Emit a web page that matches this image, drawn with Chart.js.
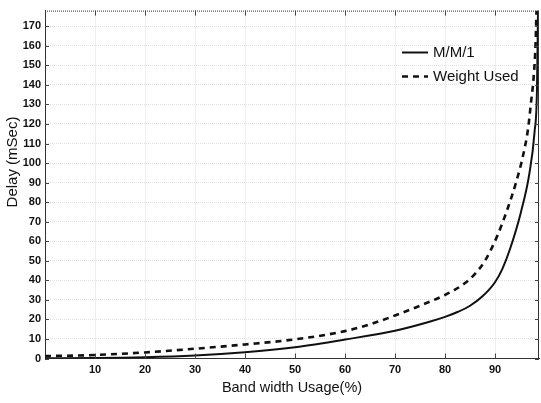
<!DOCTYPE html>
<html><head><meta charset="utf-8">
<script src="https://cdn.jsdelivr.net/npm/chart.js@4.4.0/dist/chart.umd.min.js"></script>
<style>html,body{margin:0;padding:0;background:#fff}#wrap{width:541px;height:403px}</style>
</head><body><div id="wrap"><canvas id="c" width="541" height="403"></canvas></div>
<script>
const seriesNames = ['M/M/1', 'Weight Used'];
const mm1X = [0, 10, 20, 30, 40, 50, 60, 70, 76.9, 80, 82.5, 85, 87.5, 90, 91.5, 93, 95.2, 96.9, 97.9, 98.4, 98.6];
const mm1Y = [0.1, 0.2, 0.6, 1.5, 3.2, 5.8, 9.7, 14.2, 18.8, 21.3, 23.8, 27, 31.8, 39, 46, 56, 75, 95, 115.6, 138, 178];
const wuX = [0, 10, 20, 30, 40, 50, 60, 65, 70, 75, 80, 82, 84, 86, 88, 90.5, 92.5, 94.2, 95.6, 96.6, 97.2, 97.7, 98.1, 98.3];
const wuY = [1.2, 1.8, 3.1, 5, 7.2, 9.8, 14, 17.5, 22, 27, 32.5, 35.2, 38.6, 43.3, 50, 63, 76.5, 90, 103.7, 117.3, 131, 143, 160, 178];
const xTicks = [10, 20, 30, 40, 50, 60, 70, 80, 90];
const yTicks = [0, 10, 20, 30, 40, 50, 60, 70, 80, 90, 100, 110, 120, 130, 140, 150, 160, 170];
const xTitle = 'Band width Usage(%)';
const yTitle = 'Delay (mSec)';

const toPts = (xs, ys) => xs.map((x, i) => ({x: x, y: ys[i]}));
const tickFont = {family: "'Liberation Sans Narrow','Liberation Sans',Arial,sans-serif", size: 11, weight: 'bold'};

const framePlugin = {
  id: 'frame',
  afterDatasetsDraw(chart) {
    const ctx = chart.ctx, a = chart.chartArea;
    const xs = chart.scales.x, ys = chart.scales.y;
    ctx.save();
    ctx.strokeStyle = '#333'; ctx.lineWidth = 1;
    ctx.setLineDash([1, 1]);
    ctx.beginPath(); ctx.moveTo(a.left, a.top + 0.5); ctx.lineTo(a.right, a.top + 0.5); ctx.stroke();
    ctx.setLineDash([]);
    ctx.beginPath(); ctx.moveTo(a.right - 0.5, a.top); ctx.lineTo(a.right - 0.5, a.bottom); ctx.stroke();
    ctx.strokeStyle = '#444';
    xTicks.forEach(v => {
      const px = Math.round(xs.getPixelForValue(v)) + 0.5;
      ctx.beginPath(); ctx.moveTo(px, a.bottom); ctx.lineTo(px, a.bottom - 5); ctx.stroke();
      ctx.beginPath(); ctx.moveTo(px, a.top); ctx.lineTo(px, a.top + 5); ctx.stroke();
    });
    yTicks.forEach(v => {
      const py = Math.round(ys.getPixelForValue(v)) + 0.5;
      ctx.beginPath(); ctx.moveTo(a.left, py); ctx.lineTo(a.left + 4, py); ctx.stroke();
      ctx.beginPath(); ctx.moveTo(a.right, py); ctx.lineTo(a.right - 4, py); ctx.stroke();
    });
    ctx.font = "15px 'Liberation Sans',Arial,sans-serif";
    ctx.fillStyle = '#111';
    ctx.textBaseline = 'middle';
    ctx.textAlign = 'left';
    chart.data.datasets.forEach((ds, i) => {
      const y = 52.5 + i * 24;
      ctx.strokeStyle = '#111';
      ctx.lineWidth = ds.borderWidth;
      ctx.setLineDash(ds.borderDash || []);
      ctx.beginPath(); ctx.moveTo(402, y); ctx.lineTo(428, y); ctx.stroke();
      ctx.setLineDash([]);
      ctx.fillText(ds.label, 433, y);
    });
    ctx.translate(13, 162);
    ctx.rotate(-Math.PI / 2);
    ctx.textAlign = 'center';
    ctx.font = "15px 'Liberation Sans',Arial,sans-serif";
    ctx.fillText(yTitle, 0, 0);
    ctx.restore();
  }
};

new Chart(document.getElementById('c'), {
  type: 'scatter',
  data: {
    datasets: [
      {label: seriesNames[0], data: toPts(mm1X, mm1Y), showLine: true, borderColor: '#111', borderWidth: 2,
       pointRadius: 0, cubicInterpolationMode: 'monotone', fill: false},
      {label: seriesNames[1], data: toPts(wuX, wuY), showLine: true, borderColor: '#111', borderWidth: 2.6,
       borderDash: [6, 5], pointRadius: 0, cubicInterpolationMode: 'monotone', fill: false}
    ]
  },
  options: {
    responsive: false, animation: false, devicePixelRatio: 1,
    layout: {padding: {top: 9, right: 2, left: 0, bottom: 0}},
    plugins: {legend: {display: false}, tooltip: {enabled: false}},
    scales: {
      x: {
        type: 'linear', min: 0, max: 98.8,
        afterBuildTicks: s => { s.ticks = xTicks.map(v => ({value: v})); },
        afterFit: s => { s.height = 44.5; },
        ticks: {font: tickFont, color: '#111', padding: 5, maxRotation: 0},
        grid: {color: '#e2e2e2', lineWidth: 1, drawTicks: false},
        border: {display: true, color: '#333', dash: [1, 1]},
        title: {display: true, text: xTitle, color: '#111',
                font: {family: "'Liberation Sans',Arial,sans-serif", size: 14.5}, padding: {top: 0, bottom: 6}}
      },
      y: {
        type: 'linear', min: 0, max: 178,
        afterBuildTicks: s => { s.ticks = yTicks.map(v => ({value: v})); },
        afterFit: s => { s.width = 45; },
        ticks: {font: tickFont, color: '#111', padding: 4},
        grid: {color: '#e2e2e2', lineWidth: 1, drawTicks: false},
        border: {display: true, color: '#333', dash: [1, 1]}
      }
    }
  },
  plugins: [framePlugin]
});
</script></body></html>
